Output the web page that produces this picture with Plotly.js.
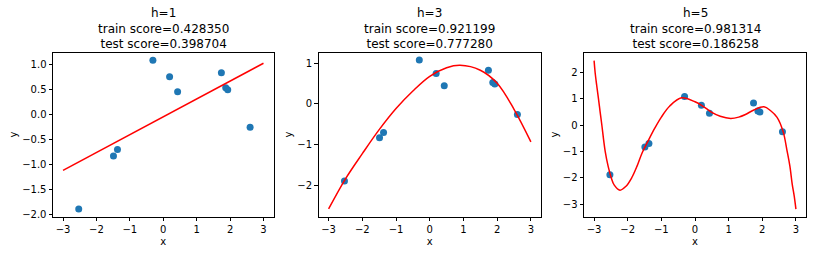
<!DOCTYPE html>
<html>
<head>
<meta charset="utf-8">
<script src="https://cdn.plot.ly/plotly-3.0.1.min.js"></script>
<style>html,body{margin:0;padding:0;background:#fff;}#chart{width:816px;height:254px;}</style>
</head>
<body>
<div id="chart"></div>
<script>
// Training points (same in every panel)
const pointsX = [-2.53, -1.49, -1.37, -0.31, 0.19, 0.43, 1.74, 1.87, 1.93, 2.60];
const pointsY = [-1.89, -0.83, -0.70, 1.08, 0.75, 0.45, 0.83, 0.53, 0.49, -0.26];

// Fitted curves
const h1X = [-3, 3];
const h1Y = [-1.12, 1.02];

const h3X = [-3, -2.5, -2, -1.5, -1, -0.5, 0, 0.5, 0.9, 1.5, 2, 2.5, 3];
const h3Y = [-2.58, -1.84, -1.22, -0.63, -0.11, 0.32, 0.68, 0.89, 0.95, 0.83, 0.51, -0.13, -0.93];

const h5X = [-3, -2.97, -2.92, -2.87, -2.82, -2.77, -2.67, -2.58, -2.49, -2.4, -2.23, -2.05, -1.88, -1.72, -1.57, -1.4, -1.2, -1, -0.75, -0.4, 0, 0.25, 0.5, 0.75, 1.06, 1.3, 1.5, 1.75, 2.05, 2.25, 2.44, 2.62, 2.74, 2.82, 2.89, 2.95, 3];
const h5Y = [2.44, 2.0, 1.48, 1.0, 0.49, 0.0, -1.0, -1.58, -2.0, -2.28, -2.47, -2.32, -2.0, -1.55, -1.05, -0.62, -0.13, 0.30, 0.72, 1.03, 0.88, 0.70, 0.48, 0.33, 0.25, 0.30, 0.40, 0.57, 0.69, 0.54, 0.29, -0.25, -1.0, -1.55, -2.24, -2.7, -3.19];

const panelTitles = [
  "h=1<br>train score=0.428350<br>test score=0.398704",
  "h=3<br>train score=0.921199<br>test score=0.777280",
  "h=5<br>train score=0.981314<br>test score=0.186258"
];
const xTicks = [-3, -2, -1, 0, 1, 2, 3];
const yTicks1 = [-2.0, -1.5, -1.0, -0.5, 0.0, 0.5, 1.0];
const yTicks2 = [-2, -1, 0, 1];
const yTicks3 = [-3, -2, -1, 0, 1, 2];

const W = 816, H = 254;
const FONT = "DejaVu Sans";
const xDomains = [[53/W, 273.5/W], [318.5/W, 541/W], [584/W, 806/W]];
const yDomain = [1 - 216.5/H, 1 - 52.5/H];
const yRanges = [[-2.04, 1.235], [-2.765, 1.265], [-3.47, 2.75]];
const yTickSets = [yTicks1, yTicks2, yTicks3];
const curves = [[h1X, h1Y], [h3X, h3Y], [h5X, h5Y]];

const data = [];
const layout = {
  width: W, height: H,
  margin: {l: 0, r: 0, t: 0, b: 0},
  paper_bgcolor: "#fff", plot_bgcolor: "#fff",
  showlegend: false,
  font: {family: FONT, size: 10, color: "#000"},
  annotations: []
};

for (let i = 0; i < 3; i++) {
  const sfx = i === 0 ? "" : String(i + 1);
  data.push({
    type: "scatter", mode: "markers", x: pointsX, y: pointsY,
    xaxis: "x" + sfx, yaxis: "y" + sfx,
    marker: {color: "#1f77b4", size: 7, line: {width: 0}}
  });
  data.push({
    type: "scatter", mode: "lines", x: curves[i][0], y: curves[i][1],
    xaxis: "x" + sfx, yaxis: "y" + sfx,
    line: {color: "#ff0000", width: 1.5, shape: "spline", smoothing: 1}
  });
  const axCommon = {
    showgrid: false, zeroline: false, showline: true, mirror: true,
    linecolor: "#000", linewidth: 1, ticks: "outside", ticklen: 3.5,
    tickwidth: 1, tickcolor: "#000", tickfont: {family: FONT, size: 10, color: "#000"}
  };
  layout["xaxis" + sfx] = Object.assign({}, axCommon, {
    domain: xDomains[i], anchor: "y" + sfx, range: [-3.3, 3.3],
    tickmode: "array", tickvals: xTicks,
    title: {text: "x", font: {family: FONT, size: 10, color: "#000"}, standoff: 3}
  });
  layout["yaxis" + sfx] = Object.assign({}, axCommon, {
    domain: yDomain, anchor: "x" + sfx, range: yRanges[i],
    tickmode: "array", tickvals: yTickSets[i],
    tickformat: i === 0 ? ".1f" : "d",
    title: {text: "y", font: {family: FONT, size: 10, color: "#000"}, standoff: 2}
  });
  layout.annotations.push({
    xref: "paper", yref: "paper",
    x: (xDomains[i][0] + xDomains[i][1]) / 2, y: 1 - 4/H,
    xanchor: "center", yanchor: "top",
    text: panelTitles[i], showarrow: false,
    font: {family: FONT, size: 12, color: "#000"}, align: "center"
  });
}

Plotly.newPlot("chart", data, layout, {displayModeBar: false, staticPlot: true});
</script>
</body>
</html>
